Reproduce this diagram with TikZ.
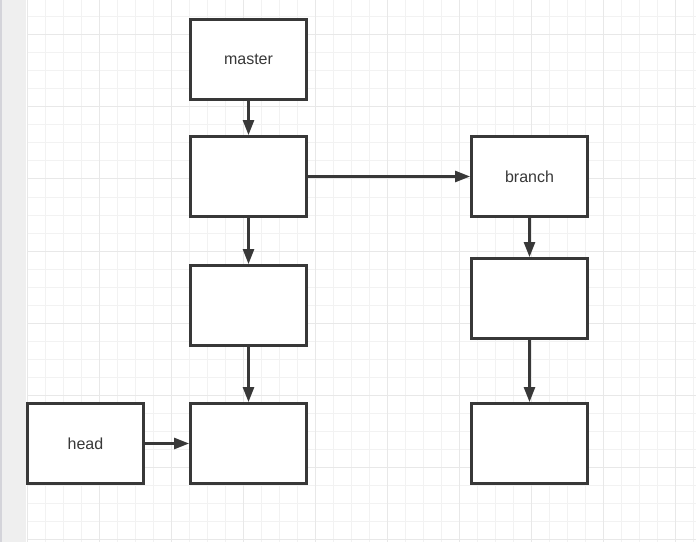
\documentclass[tikz,border=0pt]{standalone}
\usepackage{fontspec}
\setmainfont{Liberation Sans}
\usetikzlibrary{arrows.meta}
\definecolor{minorgrid}{HTML}{F2F2F2}
\definecolor{majorgrid}{HTML}{E8E8E8}
\definecolor{strip}{HTML}{EFEFEF}
\definecolor{stripedge}{HTML}{D4D4DA}
\definecolor{ink}{HTML}{383838}
\tikzset{
  box/.style={draw=ink, line width=2.8pt, fill=white, minimum width=116pt, minimum height=80pt, inner sep=0pt, font=\fontsize{16}{19}\selectfont, text=ink},
  conn/.style={draw=ink, line width=2.6pt, -{Triangle[length=15pt,width=11pt]}},
  gridline/.style={line width=1pt}
}
\begin{document}
\begin{tikzpicture}[x=1pt,y=-1pt]
\useasboundingbox (0,0) rectangle (696,542);
\fill[white] (0,0) rectangle (696,542);
% grid
\foreach \i in {0,...,37} {
  \draw[gridline, minorgrid] ({27.5+18*\i},0) -- ({27.5+18*\i},542);
}
\foreach \j in {0,...,29} {
  \draw[gridline, minorgrid] (27,{16.5+18.05*\j}) -- (696,{16.5+18.05*\j});
}
\foreach \i in {0,...,9} {
  \draw[gridline, majorgrid] ({27.5+72*\i},0) -- ({27.5+72*\i},542);
}
\foreach \j in {0,...,7} {
  \draw[gridline, majorgrid] (27,{34.5+72.2*\j}) -- (696,{34.5+72.2*\j});
}
% left strip
\fill[strip] (0,0) rectangle (26,542);
\fill[stripedge] (0,0) rectangle (2,542);
% nodes
\node[box] (master) at (248.5,59.5) {master};
\node[box] (m1) at (248.5,176.5) {};
\node[box] (m2) at (248.5,305.5) {};
\node[box] (m3) at (248.5,443.5) {};
\node[box] (branch) at (529.5,176.5) {branch};
\node[box] (b2) at (529.5,298.5) {};
\node[box] (b3) at (529.5,443.5) {};
\node[box] (head) at (85.5,443.5) {head};
% connectors
\draw[conn] (master) -- (m1);
\draw[conn] (m1) -- (m2);
\draw[conn] (m2) -- (m3);
\draw[conn] (m1) -- (branch);
\draw[conn] (branch) -- (b2);
\draw[conn] (b2) -- (b3);
\draw[conn] (head) -- (m3);
\end{tikzpicture}
\end{document}
